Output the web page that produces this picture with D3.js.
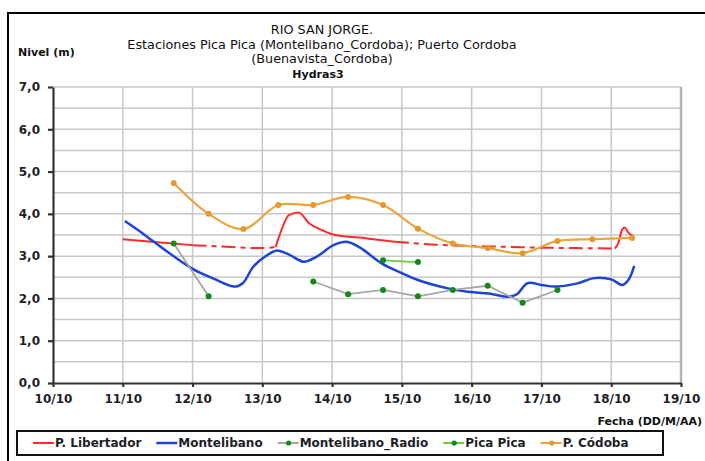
<!DOCTYPE html>
<html>
<head>
<meta charset="utf-8">
<script src="https://cdn.jsdelivr.net/npm/d3@7"></script>
<style>
  body { margin: 0; background: #fff; }
  svg { display: block; }
</style>
</head>
<body>
<svg id="chart"></svg>
<script>
// ticks
const xTicks = [10, 11, 12, 13, 14, 15, 16, 17, 18, 19]
const yTicks = [0, 1, 2, 3, 4, 5, 6, 7]
const yGrid = [0.5, 1, 1.5, 2, 2.5, 3, 3.5, 4, 4.5, 5, 5.5, 6, 6.5, 7]

// P. Libertador (day of october, level m)
const libDates = [11.0, 11.5, 12.0, 12.5, 13.0, 13.19, 13.27, 13.38, 13.52, 13.67, 13.85, 14.0, 14.5, 14.9, 15.5, 16.0, 16.5, 17.0, 17.5, 18.05, 18.1, 18.15, 18.19, 18.25, 18.32]
const libValues = [3.40, 3.33, 3.26, 3.22, 3.19, 3.22, 3.6, 3.97, 4.03, 3.78, 3.62, 3.52, 3.42, 3.34, 3.27, 3.24, 3.22, 3.20, 3.19, 3.18, 3.3, 3.6, 3.68, 3.55, 3.47]
const libMissing = [[12.0, 13.19], [14.9, 18.05]]   // estimated stretches (dashed)

// Montelibano
const monDates = [11.03, 11.3, 11.6, 12.0, 12.3, 12.6, 12.72, 12.87, 13.04, 13.2, 13.39, 13.59, 13.78, 14.02, 14.21, 14.4, 14.71, 15.0, 15.24, 15.71, 16.0, 16.3, 16.52, 16.65, 16.8, 17.0, 17.19, 17.5, 17.76, 18.0, 18.16, 18.25, 18.33]
const monValues = [3.83, 3.52, 3.15, 2.7, 2.47, 2.28, 2.36, 2.75, 2.99, 3.13, 3.03, 2.87, 2.99, 3.26, 3.34, 3.2, 2.83, 2.6, 2.43, 2.22, 2.15, 2.1, 2.04, 2.1, 2.36, 2.32, 2.28, 2.35, 2.48, 2.45, 2.32, 2.45, 2.77]

// Montelibano_Radio (NaN = no reading)
const radDates = [11.73, 12.23, 12.73, 13.23, 13.73, 14.23, 14.73, 15.23, 15.73, 16.23, 16.73, 17.23]
const radValues = [3.3, 2.05, NaN, NaN, 2.4, 2.1, 2.2, 2.05, 2.2, 2.3, 1.9, 2.2]

// Pica Pica
const picDates = [14.73, 15.23]
const picValues = [2.9, 2.86]

// P. Códoba
const corDates = [11.73, 12.23, 12.73, 13.23, 13.73, 14.23, 14.73, 15.23, 15.73, 16.23, 16.73, 17.23, 17.73, 18.3]
const corValues = [4.73, 4.0, 3.64, 4.21, 4.21, 4.4, 4.21, 3.65, 3.3, 3.19, 3.07, 3.36, 3.4, 3.43]

const legendNames = ['P. Libertador', 'Montelibano', 'Montelibano_Radio', 'Pica Pica', 'P. Códoba']

const titleLines = ['RIO SAN JORGE.', 'Estaciones Pica Pica (Montelibano_Cordoba); Puerto Cordoba', '(Buenavista_Cordoba)']

const W = 705, H = 461
const margin = {top: 87, right: 24, bottom: 78, left: 53}
const width = W - margin.left - margin.right
const height = H - margin.top - margin.bottom
const boldFont = 'DejaVu Sans, Verdana, sans-serif'

const svg = d3.select('#chart').attr('width', W).attr('height', H)

// outer frame
svg.append('rect')
    .attr('x', 8).attr('y', 13)
    .attr('width', W + 10).attr('height', H)
    .attr('fill', 'none').attr('stroke', '#000').attr('stroke-width', 2)

// titles
const title = svg.append('g').attr('font-family', boldFont).attr('fill', '#111').attr('text-anchor', 'middle')
titleLines.forEach((t, i) => {
    title.append('text').attr('x', 322).attr('y', 34 + i * 14.5)
        .attr('font-size', '12.8px').text(t)
})
title.append('text').attr('x', 318).attr('y', 78).attr('font-size', '11px').attr('font-weight', 'bold').text('Hydras3')

svg.append('text').attr('x', 18).attr('y', 56)
    .attr('font-family', boldFont).attr('font-size', '11px').attr('font-weight', 'bold')
    .attr('fill', '#111').text('Nivel (m)')

const g = svg.append('g').attr('transform', 'translate(' + margin.left + ',' + margin.top + ')')

const x = d3.scaleLinear().domain([10, 19]).range([0, width])
const y = d3.scaleLinear().domain([0, 7]).range([height, 0])

// grid
g.append('g').selectAll('line').data(yGrid).join('line')
    .attr('x1', 0).attr('x2', width)
    .attr('y1', d => y(d)).attr('y2', d => y(d))
    .attr('stroke', '#c8c8c8').attr('stroke-width', 1.5)
g.append('g').selectAll('line').data(xTicks.slice(1)).join('line')
    .attr('x1', d => x(d)).attr('x2', d => x(d))
    .attr('y1', 0).attr('y2', height)
    .attr('stroke', d => d === 19 ? '#b4b4b4' : '#c8c8c8')
    .attr('stroke-width', d => d === 19 ? 2.5 : 1.5)

// axes
const xAxis = g.append('g')
    .attr('transform', 'translate(0,' + height + ')')
    .call(d3.axisBottom(x).tickValues(xTicks).tickFormat(d => d + '/10').tickSizeInner(4).tickSizeOuter(0).tickPadding(7))
const yAxis = g.append('g')
    .call(d3.axisLeft(y).tickValues(yTicks).tickFormat(d => d3.format('.1f')(d).replace('.', ',')).tickSizeInner(5).tickSizeOuter(0).tickPadding(8))

;[xAxis, yAxis].forEach(a => {
    a.select('.domain').attr('stroke', '#333').attr('stroke-width', 2.2)
    a.selectAll('.tick line').attr('stroke', '#333').attr('stroke-width', 2.2)
    a.selectAll('.tick text')
        .attr('font-family', boldFont).attr('font-size', '12px').attr('font-weight', 'bold').attr('fill', '#1e1e28')
})

svg.append('text').attr('x', 702).attr('y', 425).attr('text-anchor', 'end')
    .attr('font-family', boldFont).attr('font-size', '11px').attr('font-weight', 'bold')
    .attr('fill', '#111').text('Fecha (DD/M/AA)')

const plot = g.append('g')

// P. Libertador: solid where measured, dashed where missing
const libPts = libDates.map((d, i) => ({date: d, value: libValues[i]}))
const isMissing = (a, b) => libMissing.some(r => (a.date + b.date) / 2 > r[0] && (a.date + b.date) / 2 < r[1])
const libSegs = []
for (let i = 1; i < libPts.length; i++) {
    const dashed = isMissing(libPts[i - 1], libPts[i])
    const last = libSegs[libSegs.length - 1]
    if (last && last.dashed === dashed) last.pts.push(libPts[i])
    else libSegs.push({dashed: dashed, pts: [libPts[i - 1], libPts[i]]})
}
const smooth = d3.line().x(d => x(d.date)).y(d => y(d.value)).curve(d3.curveMonotoneX)
plot.selectAll('.lib').data(libSegs).join('path')
    .attr('class', 'lib')
    .attr('d', d => smooth(d.pts))
    .attr('fill', 'none').attr('stroke', '#ff2a2a').attr('stroke-width', 2)
    .attr('stroke-dasharray', d => d.dashed ? '14,5,5,5' : null)

// Montelibano
const monPts = monDates.map((d, i) => ({date: d, value: monValues[i]}))
plot.append('path').datum(monPts)
    .attr('d', d3.line().x(d => x(d.date)).y(d => y(d.value)).curve(d3.curveCatmullRom.alpha(0.5)))
    .attr('fill', 'none').attr('stroke', '#1d44d6').attr('stroke-width', 2.5)

// Montelibano_Radio
const radPts = radDates.map((d, i) => ({date: d, value: radValues[i]}))
const straight = d3.line().defined(d => !isNaN(d.value)).x(d => x(d.date)).y(d => y(d.value))
plot.append('path').datum(radPts)
    .attr('d', straight)
    .attr('fill', 'none').attr('stroke', '#a6a6a6').attr('stroke-width', 1.8)
plot.selectAll('.rad').data(radPts.filter(d => !isNaN(d.value))).join('circle')
    .attr('class', 'rad')
    .attr('cx', d => x(d.date)).attr('cy', d => y(d.value)).attr('r', 3)
    .attr('fill', '#12891a')

// Pica Pica
const picPts = picDates.map((d, i) => ({date: d, value: picValues[i]}))
plot.append('path').datum(picPts)
    .attr('d', straight)
    .attr('fill', 'none').attr('stroke', '#6ccc3c').attr('stroke-width', 1.8)
plot.selectAll('.pic').data(picPts).join('circle')
    .attr('class', 'pic')
    .attr('cx', d => x(d.date)).attr('cy', d => y(d.value)).attr('r', 3)
    .attr('fill', '#12891a')

// P. Códoba
const corPts = corDates.map((d, i) => ({date: d, value: corValues[i]}))
plot.append('path').datum(corPts)
    .attr('d', d3.line().x(d => x(d.date)).y(d => y(d.value)).curve(d3.curveCatmullRom.alpha(0.5)))
    .attr('fill', 'none').attr('stroke', '#eba53a').attr('stroke-width', 2.2)
plot.selectAll('.cor').data(corPts).join('circle')
    .attr('class', 'cor')
    .attr('cx', d => x(d.date)).attr('cy', d => y(d.value)).attr('r', 3)
    .attr('fill', '#e39a2c')

// legend
const legendStyle = [
    {stroke: '#ff2a2a', dot: null},
    {stroke: '#1d44d6', dot: null},
    {stroke: '#a6a6a6', dot: '#12891a'},
    {stroke: '#6ccc3c', dot: '#12891a'},
    {stroke: '#eba53a', dot: '#e39a2c'}
]
svg.append('rect')
    .attr('x', 17).attr('y', 431).attr('width', 646).attr('height', 24)
    .attr('fill', '#fff').attr('stroke', '#111').attr('stroke-width', 2)
const legend = svg.append('g')
let lx = 33
legendNames.forEach((name, i) => {
    const s = legendStyle[i]
    legend.append('line').attr('x1', lx).attr('x2', lx + 21).attr('y1', 443).attr('y2', 443)
        .attr('stroke', s.stroke).attr('stroke-width', i === 1 ? 2.5 : 2)
    if (s.dot) legend.append('circle').attr('cx', lx + 11).attr('cy', 443).attr('r', 2.6).attr('fill', s.dot)
    const t = legend.append('text').attr('x', lx + 22).attr('y', 447)
        .attr('font-family', boldFont).attr('font-size', '12px').attr('font-weight', 'bold')
        .attr('fill', '#1e1e28').text(name)
    lx += 22 + t.node().getComputedTextLength() + 15
})
</script>
</body>
</html>
